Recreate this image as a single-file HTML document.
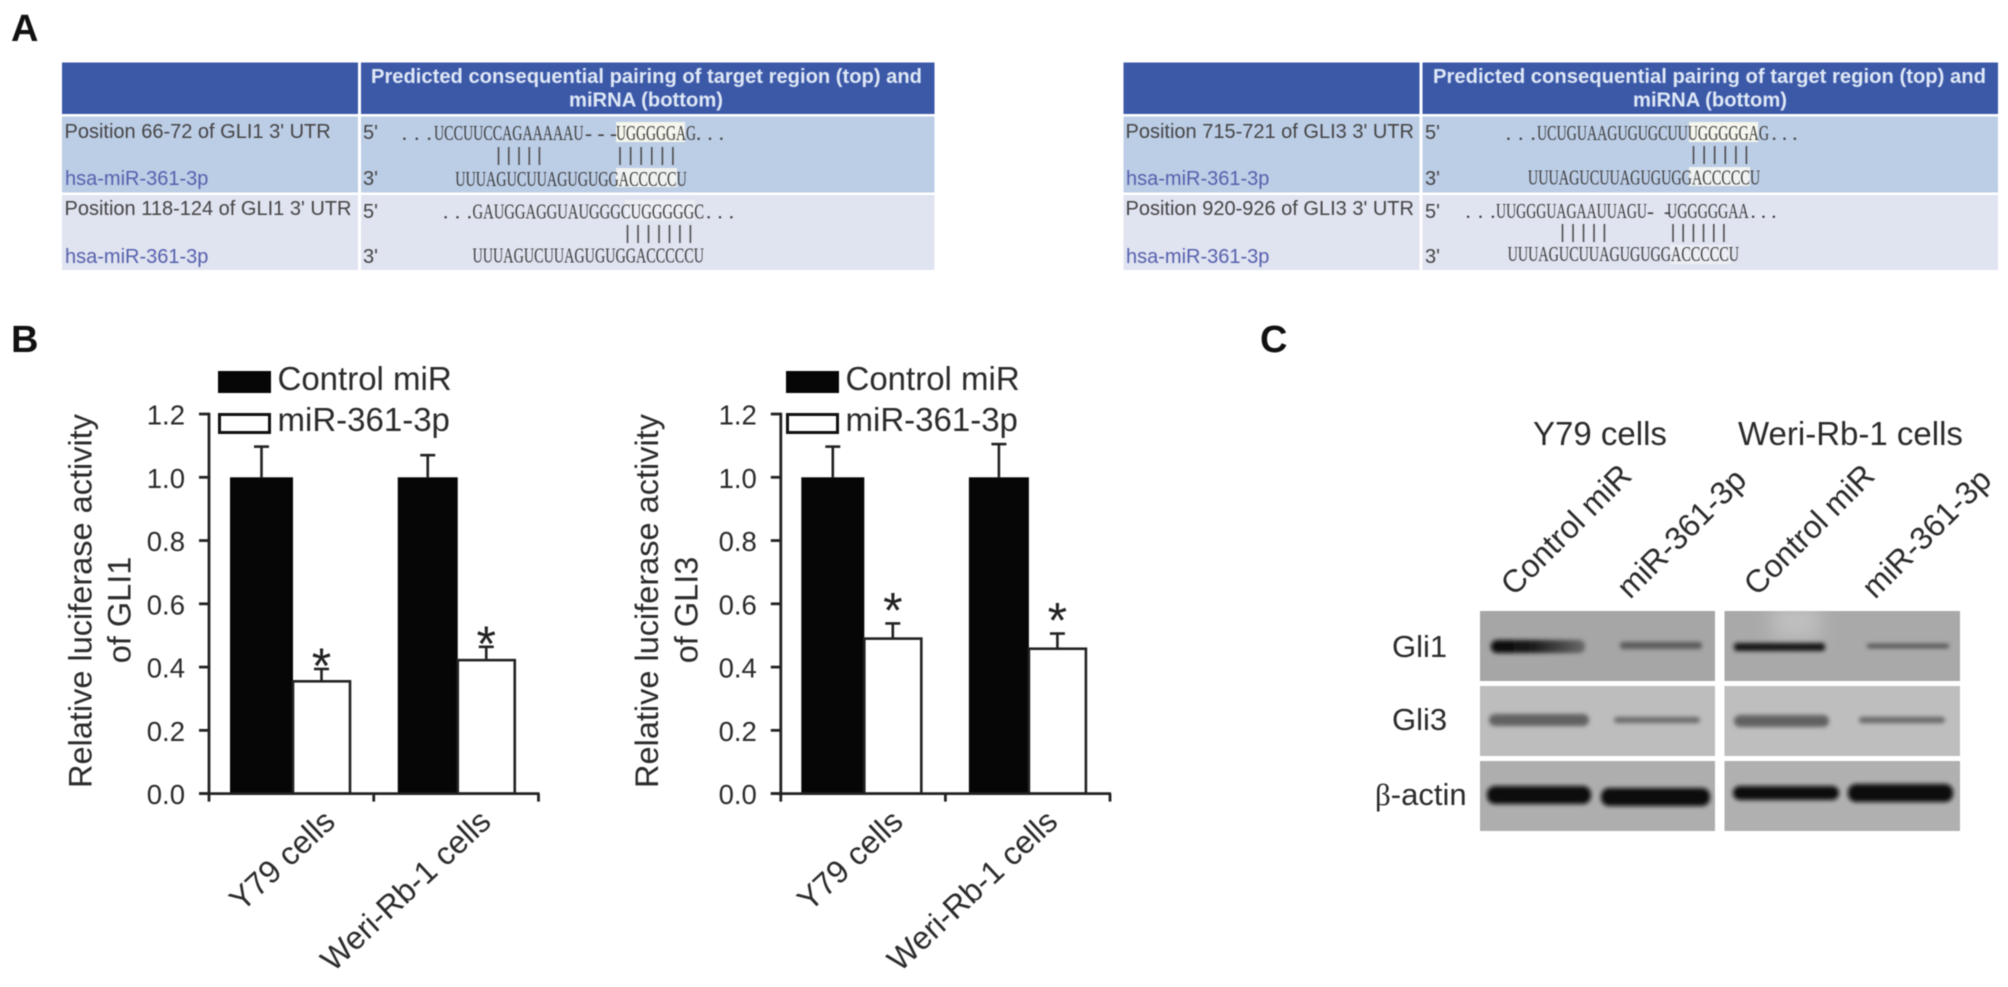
<!DOCTYPE html>
<html lang="en">
<head>
<meta charset="utf-8">
<title>miR-361-3p targets GLI1 and GLI3</title>
<style>
html,body{margin:0;padding:0;background:#fff;}
svg{display:block;font-family:"Liberation Sans",sans-serif;filter:blur(0.4px);}
.hdr{font-weight:bold;font-size:20px;fill:#dfe8f6;}
.pos{font-size:20px;fill:#454545;}
.hsa{font-size:20px;fill:#5561ad;}
.end{font-size:20px;fill:#454545;}
.seq{font-family:"Liberation Serif",serif;font-size:21px;fill:#3c3c3c;}
.pair{font-size:19.5px;fill:#4c4c4c;}
.panel{font-weight:bold;font-size:38px;fill:#111;}
.lbl{font-size:32px;fill:#2b2b2b;}
</style>
</head>
<body>
<svg id="fig" xmlns="http://www.w3.org/2000/svg" width="2008" height="987" viewBox="0 0 2008 987">
<defs>
<filter id="blur1" x="-20%" y="-100%" width="140%" height="300%"><feGaussianBlur stdDeviation="2"/></filter>
<filter id="blur2" x="-60%" y="-60%" width="220%" height="220%"><feGaussianBlur stdDeviation="9"/></filter>
<linearGradient id="taper" x1="0" x2="1" y1="0" y2="0"><stop offset="0" stop-color="#060606"/><stop offset="0.45" stop-color="#1c1c1c"/><stop offset="1" stop-color="#6a6a6a"/></linearGradient>
<clipPath id="gli1WeriClip"><rect x="1724.5" y="611" width="235.5" height="70"/></clipPath>
</defs>
<rect width="2008" height="987" fill="#fff"/>

<text class="panel" x="11" y="41">A</text>
<text class="panel" x="11" y="352">B</text>
<text class="panel" x="1260" y="352">C</text>

<!-- Table GLI1 -->
<g>
<rect x="62" y="62.5" width="296" height="51.5" fill="#3c59a8"/>
<rect x="361" y="62.5" width="573.5" height="51.5" fill="#3c59a8"/>
<rect x="62" y="116.5" width="296" height="76" fill="#bccde6"/>
<rect x="361" y="116.5" width="573.5" height="76" fill="#bccde6"/>
<rect x="62" y="195" width="296" height="75" fill="#e0e3f0"/>
<rect x="361" y="195" width="573.5" height="75" fill="#e0e3f0"/>
<rect x="616" y="122" width="69" height="20" fill="#f5f7ee"/>
<rect x="616" y="168" width="61" height="19" fill="#f0f3f2"/>
<rect x="625" y="200" width="70" height="20" fill="#eceef5"/>
<text class="hdr" x="371" y="83" textLength="551" lengthAdjust="spacingAndGlyphs">Predicted consequential pairing of target region (top) and</text>
<text class="hdr" x="569" y="106.5" textLength="154" lengthAdjust="spacingAndGlyphs">miRNA (bottom)</text>
<text class="pos" x="64.5" y="138">Position 66-72 of GLI1 3' UTR</text>
<text class="hsa" x="65" y="185">hsa-miR-361-3p</text>
<text class="pos" x="64.5" y="215">Position 118-124 of GLI1 3' UTR</text>
<text class="hsa" x="65" y="263">hsa-miR-361-3p</text>
<text class="end" x="363" y="139">5'</text>
<text class="end" x="363" y="185">3'</text>
<text class="end" x="363" y="218">5'</text>
<text class="end" x="363" y="263">3'</text>
<text class="seq" x="401.7" y="140" textLength="30" lengthAdjust="spacing">...</text>
<text class="seq" x="434" y="140" textLength="149.5" lengthAdjust="spacingAndGlyphs">UCCUUCCAGAAAAAU</text>
<text class="seq" x="585" y="140" textLength="32" lengthAdjust="spacing">---</text>
<text class="seq" x="616" y="140" textLength="80" lengthAdjust="spacingAndGlyphs">UGGGGGAG</text>
<text class="seq" x="696" y="140" textLength="28" lengthAdjust="spacing">...</text>
<text class="pair" x="496" y="161" textLength="46" lengthAdjust="spacing">|||||</text>
<text class="pair" x="617.5" y="161" textLength="58" lengthAdjust="spacing">||||||</text>
<text class="seq" x="455.2" y="186" textLength="231.6" lengthAdjust="spacingAndGlyphs">UUUAGUCUUAGUGUGGACCCCCU</text>
<text class="seq" x="443" y="218.3" textLength="29" lengthAdjust="spacing">...</text>
<text class="seq" x="472.5" y="218.3" textLength="231.5" lengthAdjust="spacingAndGlyphs">GAUGGAGGUAUGGGCUGGGGGC</text>
<text class="seq" x="706" y="218.3" textLength="28" lengthAdjust="spacing">...</text>
<text class="pair" x="625" y="239" textLength="68" lengthAdjust="spacing">|||||||</text>
<text class="seq" x="472.5" y="262.7" textLength="231.5" lengthAdjust="spacingAndGlyphs">UUUAGUCUUAGUGUGGACCCCCU</text>
</g>

<!-- Table GLI3 -->
<g>
<rect x="1123.5" y="62.5" width="296" height="51.5" fill="#3c59a8"/>
<rect x="1422.5" y="62.5" width="575.5" height="51.5" fill="#3c59a8"/>
<rect x="1123.5" y="116.5" width="296" height="76" fill="#bccde6"/>
<rect x="1422.5" y="116.5" width="575.5" height="76" fill="#bccde6"/>
<rect x="1123.5" y="195" width="296" height="75" fill="#e0e3f0"/>
<rect x="1422.5" y="195" width="575.5" height="75" fill="#e0e3f0"/>
<rect x="1689" y="122" width="69" height="20" fill="#f5f7ee"/>
<rect x="1689" y="167" width="61" height="19" fill="#f0f3f2"/>
<rect x="1670" y="245" width="61" height="19" fill="#eceef5"/>
<text class="hdr" x="1433" y="83" textLength="553" lengthAdjust="spacingAndGlyphs">Predicted consequential pairing of target region (top) and</text>
<text class="hdr" x="1633" y="106.5" textLength="154" lengthAdjust="spacingAndGlyphs">miRNA (bottom)</text>
<text class="pos" x="1125.5" y="138">Position 715-721 of GLI3 3' UTR</text>
<text class="hsa" x="1126" y="185">hsa-miR-361-3p</text>
<text class="pos" x="1125.5" y="215">Position 920-926 of GLI3 3' UTR</text>
<text class="hsa" x="1126" y="263">hsa-miR-361-3p</text>
<text class="end" x="1425" y="139">5'</text>
<text class="end" x="1425" y="185">3'</text>
<text class="end" x="1425" y="218">5'</text>
<text class="end" x="1425" y="263">3'</text>
<text class="seq" x="1505.7" y="140" textLength="30" lengthAdjust="spacing">...</text>
<text class="seq" x="1537" y="140" textLength="232" lengthAdjust="spacingAndGlyphs">UCUGUAAGUGUGCUUUGGGGGAG</text>
<text class="seq" x="1771.5" y="140" textLength="26" lengthAdjust="spacing">...</text>
<text class="pair" x="1691" y="160" textLength="58" lengthAdjust="spacing">||||||</text>
<text class="seq" x="1527.9" y="184.3" textLength="232.3" lengthAdjust="spacingAndGlyphs">UUUAGUCUUAGUGUGGACCCCCU</text>
<text class="seq" x="1465.5" y="218" textLength="30" lengthAdjust="spacing">...</text>
<text class="seq" x="1496" y="218" textLength="151" lengthAdjust="spacingAndGlyphs">UUGGGUAGAAUUAGU</text>
<text class="seq" x="1647" y="218" textLength="24" lengthAdjust="spacing">--</text>
<text class="seq" x="1667" y="218" textLength="81.7" lengthAdjust="spacingAndGlyphs">UGGGGGAA</text>
<text class="seq" x="1750.5" y="218" textLength="26" lengthAdjust="spacing">...</text>
<text class="pair" x="1560" y="238" textLength="47" lengthAdjust="spacing">|||||</text>
<text class="pair" x="1670.5" y="238" textLength="56" lengthAdjust="spacing">||||||</text>
<text class="seq" x="1507.6" y="261" textLength="231.4" lengthAdjust="spacingAndGlyphs">UUUAGUCUUAGUGUGGACCCCCU</text>
</g>

<!-- Bar charts are drawn by the script into these groups -->
<g id="chart-gli1"></g>
<g id="chart-gli3"></g>

<!-- Western blot -->
<g>
<text class="lbl" x="1533" y="445" style="font-size:33px">Y79 cells</text>
<text class="lbl" x="1738" y="445" style="font-size:33px">Weri-Rb-1 cells</text>
<text class="lbl" transform="translate(1514 597) rotate(-45)">Control miR</text>
<text class="lbl" transform="translate(1630 600) rotate(-45)">miR-361-3p</text>
<text class="lbl" transform="translate(1757 597) rotate(-45)">Control miR</text>
<text class="lbl" transform="translate(1875 600) rotate(-45)">miR-361-3p</text>
<text class="lbl" x="1392" y="657" style="font-size:31px">Gli1</text>
<text class="lbl" x="1392" y="730" style="font-size:31px">Gli3</text>
<text class="lbl" x="1375" y="805" style="font-size:31px"><tspan font-family="Liberation Serif, serif">β</tspan>-actin</text>

<rect x="1480" y="611" width="235" height="70" fill="#a6a6a6"/>
<rect x="1724.5" y="611" width="235.5" height="70" fill="#a9a9a9"/>
<rect x="1480" y="686" width="235" height="70" fill="#bdbdbd"/>
<rect x="1724.5" y="686" width="235.5" height="70" fill="#bebebe"/>
<rect x="1480" y="761" width="235" height="70" fill="#aeaeae"/>
<rect x="1724.5" y="761" width="235.5" height="70" fill="#b0b0b0"/>

<g clip-path="url(#gli1WeriClip)">
<rect x="1772" y="605" width="48" height="34" fill="#c0c0c0" filter="url(#blur2)"/>
</g>
<g filter="url(#blur1)">
<rect x="1491" y="640" width="94" height="13" rx="6" fill="url(#taper)"/>
<rect x="1620" y="642" width="82" height="7" rx="3" fill="#5a5a5a"/>
<rect x="1734" y="643" width="91" height="8" rx="3" fill="#151515"/>
<rect x="1867" y="644" width="82" height="4" rx="2" fill="#4a4a4a"/>
<rect x="1489" y="714" width="100" height="12" rx="6" fill="#626262"/>
<rect x="1614" y="717" width="86" height="6" rx="3" fill="#6a6a6a"/>
<rect x="1734" y="715" width="95" height="12" rx="6" fill="#626262"/>
<rect x="1859" y="717" width="86" height="6" rx="3" fill="#666"/>
<rect x="1487" y="786" width="104" height="18" rx="8" fill="#0e0e0e"/>
<rect x="1601" y="788" width="109" height="18" rx="8" fill="#0e0e0e"/>
<rect x="1733" y="786" width="106" height="14" rx="7" fill="#0e0e0e"/>
<rect x="1848" y="784" width="105" height="18" rx="8" fill="#0a0a0a"/>
</g>
</g>
</svg>

<script>
const categories = ['Y79 cells', 'Weri-Rb-1 cells'];
const seriesNames = ['Control miR', 'miR-361-3p'];
const yTickValues = [0, 0.2, 0.4, 0.6, 0.8, 1.0, 1.2];
const yTickLabels = ['0.0', '0.2', '0.4', '0.6', '0.8', '1.0', '1.2'];

const gli1Control = [1.0, 1.0];
const gli1ControlErr = [0.097, 0.07];
const gli1Mir = [0.355, 0.422];
const gli1MirErr = [0.039, 0.042];
const gli1Marks = ['*', '*'];

const gli3Control = [1.0, 1.0];
const gli3ControlErr = [0.097, 0.105];
const gli3Mir = [0.49, 0.458];
const gli3MirErr = [0.048, 0.048];
const gli3Marks = ['*', '*'];

const NS = 'http://www.w3.org/2000/svg';
const INK = '#222';

function make(parent, tag, attrs, text) {
  const el = document.createElementNS(NS, tag);
  for (const k in attrs) el.setAttribute(k, attrs[k]);
  if (text !== undefined) el.textContent = text;
  parent.appendChild(el);
  return el;
}

function drawChart(cfg) {
  const g = document.getElementById(cfg.id);
  const yScale = v => 793.6 - 316.3 * v;
  const groupX = i => cfg.x0 + i * cfg.groupWidth;
  const whiteW = 57, capW = 15;

  categories.forEach((cat, i) => {
    const left = groupX(i) + cfg.pads[i];
    const blackW = cfg.blackWidths[i];
    const series = [
      {vals: cfg.control, errs: cfg.controlErr, x: left, w: blackW, key: 'control'},
      {vals: cfg.mir, errs: cfg.mirErr, x: left + blackW, w: whiteW, key: 'mir'}
    ];
    series.forEach(s => {
      const top = yScale(s.vals[i]);
      const capY = yScale(s.vals[i] + s.errs[i]);
      const cx = s.x + s.w / 2;

      const stem = make(g, 'line', {x1: cx, x2: cx, y1: top, y2: capY, stroke: INK, 'stroke-width': 2.6});
      
      

      const cap = make(g, 'line', {x1: cx - capW / 2, x2: cx + capW / 2, y1: capY, y2: capY, stroke: INK, 'stroke-width': 2.6});
      
      

      const bar = s.key === 'control'
        ? make(g, 'rect', {x: s.x, y: top, width: s.w, height: yScale(0) - top, fill: '#060606'})
        : make(g, 'rect', {x: s.x, y: top, width: s.w, height: yScale(0) - top, fill: '#fff', stroke: INK, 'stroke-width': 2.6});
      
      
    });

    const starY = yScale(cfg.mir[i] + cfg.mirErr[i]) - cfg.starGap + 29;
    const star = make(g, 'text', {x: left + blackW + whiteW / 2, y: starY, 'text-anchor': 'middle', 'font-size': 50, fill: INK}, cfg.marks[i]);
    
    

    const label = make(g, 'text', {
      transform: 'translate(' + (groupX(i) + cfg.labelEnds[i]) + ' 824) rotate(-43)',
      'text-anchor': 'end', 'font-size': 32, fill: '#2b2b2b'
    }, cat);
    
    
  });

  const yAxis = make(g, 'line', {x1: cfg.x0, x2: cfg.x0, y1: yScale(1.2) - 1.3, y2: yScale(0) + 8, stroke: INK, 'stroke-width': 2.8});
  
  

  const xAxis = make(g, 'line', {x1: cfg.x0 - 10, x2: groupX(categories.length) + 1, y1: yScale(0), y2: yScale(0), stroke: INK, 'stroke-width': 2.8});
  
  

  for (let i = 1; i <= categories.length; i++) {
    const t = make(g, 'line', {x1: groupX(i), x2: groupX(i), y1: yScale(0), y2: yScale(0) + 8, stroke: INK, 'stroke-width': 2.8});
    
    
  }

  yTickValues.forEach((v, i) => {
    const t = make(g, 'line', {x1: cfg.x0 - 10, x2: cfg.x0, y1: yScale(v), y2: yScale(v), stroke: INK, 'stroke-width': 2.8});
    
    

    const l = make(g, 'text', {x: cfg.x0 - 24, y: yScale(v) + 10.5, 'text-anchor': 'end', 'font-size': 27.5, fill: '#2b2b2b'}, yTickLabels[i]);
    
    
  });

  const t1 = make(g, 'text', {transform: 'translate(' + cfg.titleX1 + ' 601) rotate(-90)', 'text-anchor': 'middle', 'font-size': 32.5, fill: '#2b2b2b'}, 'Relative luciferase activity');
  
  

  const t2 = make(g, 'text', {transform: 'translate(' + cfg.titleX2 + ' 610) rotate(-90)', 'text-anchor': 'middle', 'font-size': 32.5, fill: '#2b2b2b'}, cfg.title2);
  
  

  const swA = make(g, 'rect', {x: cfg.legendX, y: 371, width: 53, height: 22, fill: '#060606'});
  
  

  const swB = make(g, 'rect', {x: cfg.legendX + 1.5, y: 414.5, width: 50, height: 18, fill: '#fff', stroke: '#111', 'stroke-width': 3});
  
  

  const lgA = make(g, 'text', {x: cfg.legendX + 59.5, y: 390, 'font-size': 33, fill: '#2b2b2b'}, seriesNames[0]);
  
  

  const lgB = make(g, 'text', {x: cfg.legendX + 59.5, y: 431, 'font-size': 33, fill: '#2b2b2b'}, seriesNames[1]);
  
  
}

drawChart({
  id: 'chart-gli1', x0: 209, groupWidth: 164.75, pads: [21, 24], blackWidths: [63, 60], starGap: 15,
  control: gli1Control, controlErr: gli1ControlErr, mir: gli1Mir, mirErr: gli1MirErr, marks: gli1Marks,
  labelEnds: [128, 119], titleX1: 91.5, titleX2: 130.5, title2: 'of GLI1', legendX: 218
});
drawChart({
  id: 'chart-gli3', x0: 780.8, groupWidth: 164.6, pads: [20.5, 23.5], blackWidths: [63, 60], starGap: 25,
  control: gli3Control, controlErr: gli3ControlErr, mir: gli3Mir, mirErr: gli3MirErr, marks: gli3Marks,
  labelEnds: [124, 114], titleX1: 658, titleX2: 697.5, title2: 'of GLI3', legendX: 786
});
</script>
</body>
</html>
